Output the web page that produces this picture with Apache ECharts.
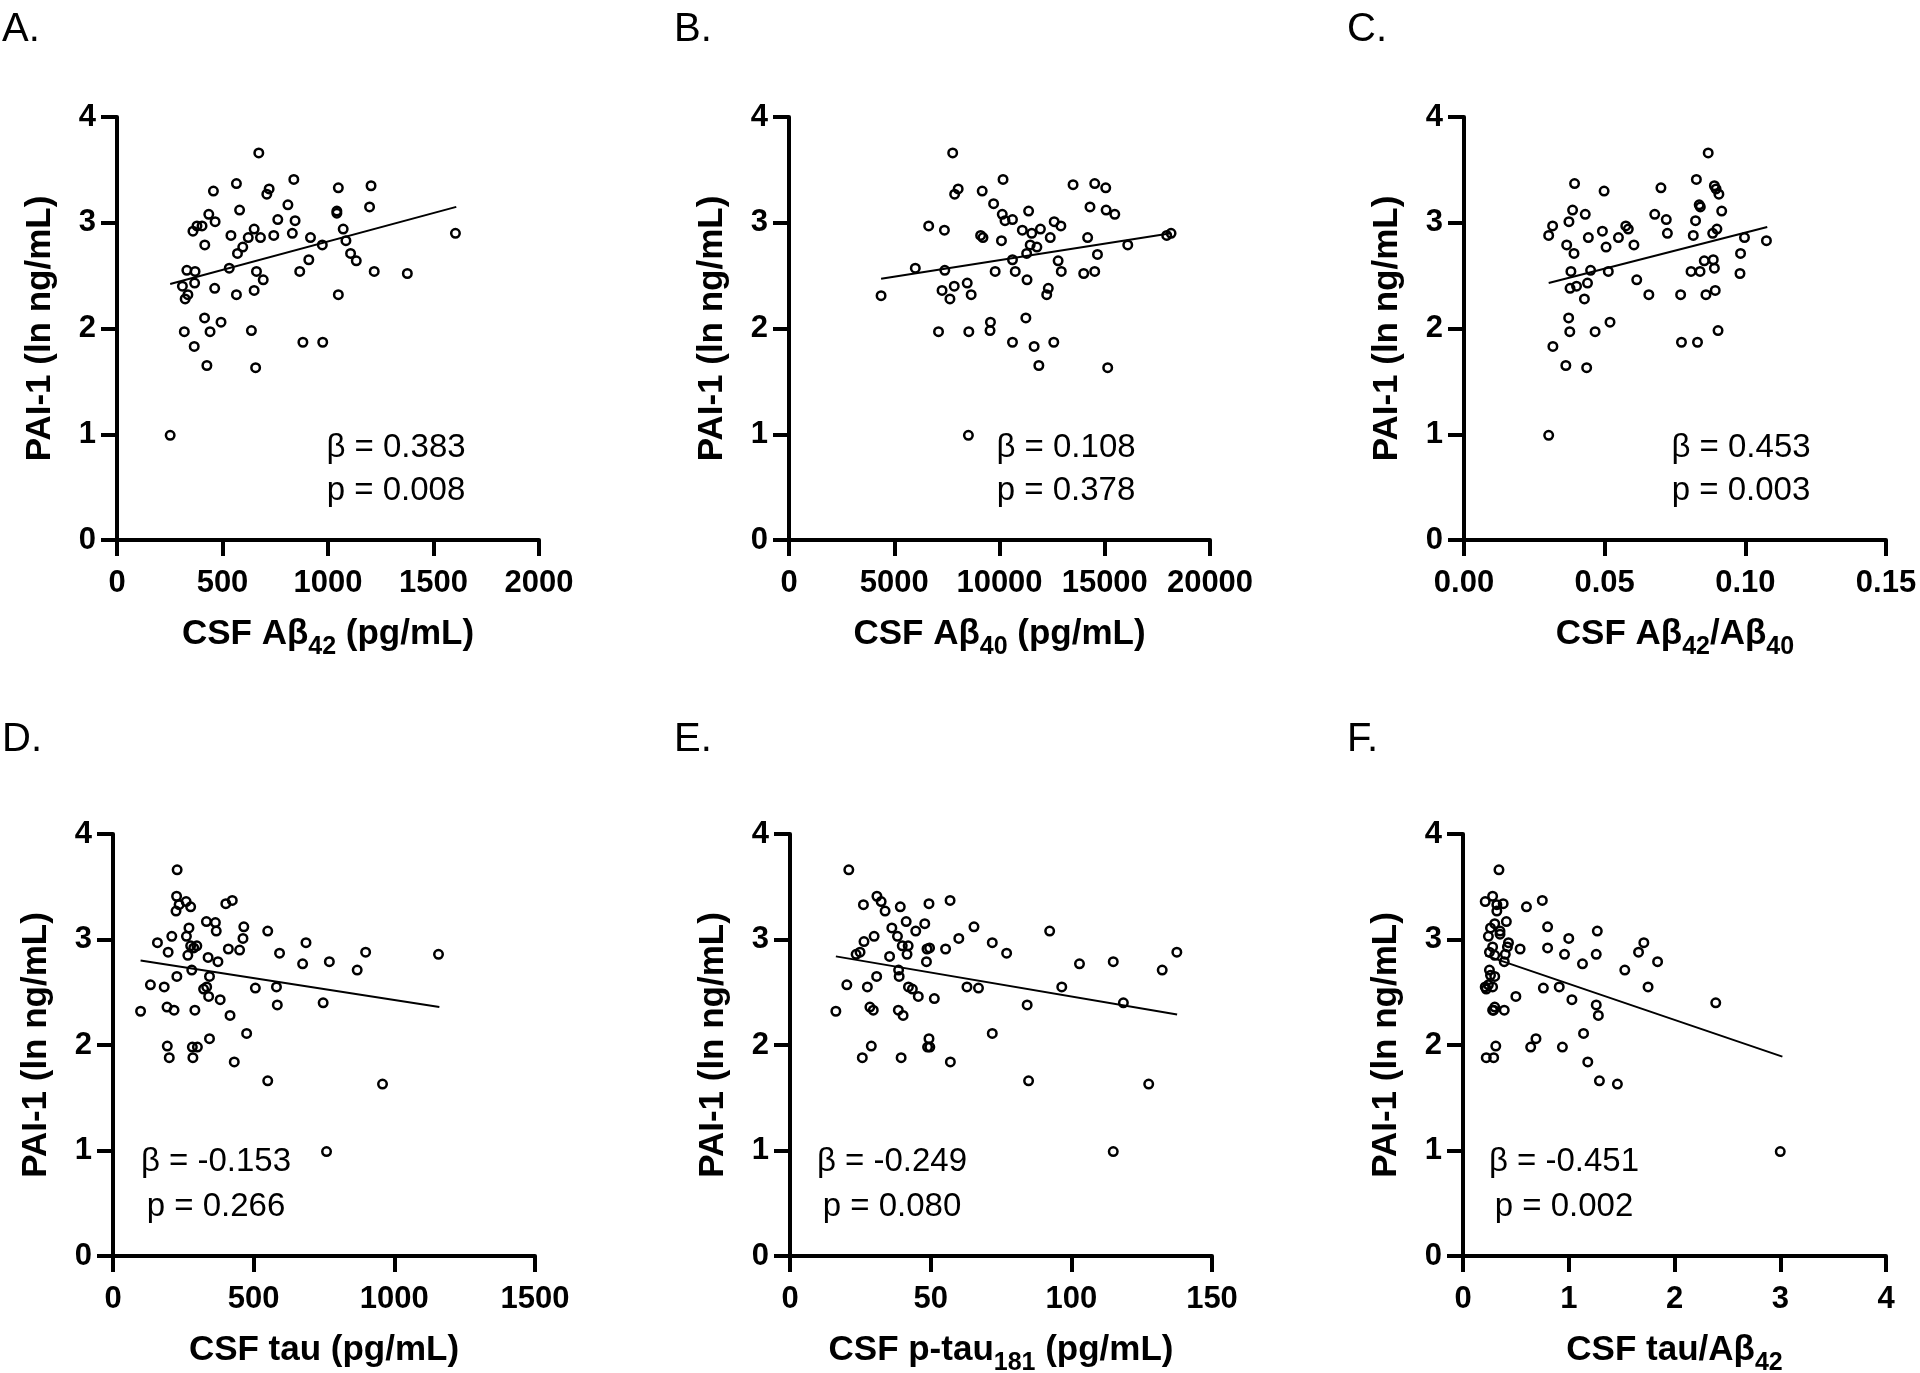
<!DOCTYPE html>
<html>
<head>
<meta charset="utf-8">
<script src="https://cdn.jsdelivr.net/npm/echarts@6/dist/echarts.min.js"></script>
<style>
html,body{margin:0;padding:0;background:#fff;}
#chart{width:1920px;height:1373px;}
</style>
</head>
<body>
<div id="chart"></div>
<script>
// ---------------- DATA ----------------
const panelLetters = ['A.', 'B.', 'C.', 'D.', 'E.', 'F.'];
const yAxisTitle = 'PAI-1 (ln ng/mL)';
const xAxisTitles = [
  'CSF Aβ{s|42} (pg/mL)',
  'CSF Aβ{s|40} (pg/mL)',
  'CSF Aβ{s|42}/Aβ{s|40}',
  'CSF tau (pg/mL)',
  'CSF p-tau{s|181} (pg/mL)',
  'CSF tau/Aβ{s|42}'
];
const xMax = [2000, 20000, 0.15, 1500, 150, 4];
const xStep = [500, 5000, 0.05, 500, 50, 1];
const xDecimals = [0, 0, 2, 0, 0, 0];
const yMax = 4;
const yStep = 1;
const betaValues = ['0.383', '0.108', '0.453', '-0.153', '-0.249', '-0.451'];
const pValues = ['0.008', '0.378', '0.003', '0.266', '0.080', '0.002'];

// A: CSF Abeta42
const aX = [252,672,566,457,721,710,838,1049,1204,1197,810,581,435,465,762,844,1042,1042,379,403,360,650,1072,1604,540,622,680,743,831,917,1085,416,596,973,571,1107,1134,909,532,331,370,661,866,1219,1376,693,368,310,463,336,323,566,650,1049,415,493,319,441,637,366,881,975,426,657];
const aY = [0.99,3.66,3.37,3.30,3.32,3.27,3.41,3.33,3.35,3.15,3.17,3.12,3.08,3.01,3.03,3.02,3.11,3.09,2.97,2.97,2.92,2.94,2.94,2.90,2.88,2.86,2.86,2.88,2.90,2.86,2.83,2.79,2.77,2.79,2.71,2.71,2.64,2.65,2.57,2.55,2.54,2.54,2.54,2.54,2.52,2.46,2.43,2.40,2.38,2.32,2.28,2.32,2.36,2.32,2.10,2.06,1.97,1.97,1.98,1.83,1.87,1.87,1.65,1.63];
const aFitX = [252, 1608];
const aFitY = [2.42, 3.15];

// B: CSF Abeta40
const bX = [8523,7776,8037,7869,9178,10168,13495,14523,15047,9720,14299,15065,15477,11383,10131,10262,10617,12598,12916,6636,7383,11084,11533,11944,9103,9215,10093,12411,14187,17944,18150,11458,11776,16093,11290,14654,10617,12785,6000,7402,9794,10748,12935,14000,14523,11308,8467,7850,7271,12318,4374,7645,8654,12243,11252,9570,7103,8542,9551,10617,12579,11645,11869,15140];
const bY = [0.99,3.66,3.32,3.27,3.30,3.41,3.36,3.37,3.33,3.18,3.15,3.12,3.08,3.11,3.08,3.02,3.03,3.01,2.97,2.97,2.93,2.93,2.90,2.94,2.88,2.86,2.83,2.86,2.86,2.88,2.90,2.79,2.77,2.79,2.71,2.70,2.65,2.64,2.57,2.55,2.54,2.54,2.54,2.52,2.54,2.46,2.43,2.40,2.36,2.38,2.31,2.28,2.32,2.32,2.10,2.06,1.97,1.97,1.98,1.87,1.87,1.83,1.65,1.63];
const bFitX = [4374, 18150];
const bFitY = [2.47, 2.90];

// C: CSF Abeta42/Abeta40
const cX = [0.0301,0.0868,0.0393,0.0826,0.0700,0.0498,0.0890,0.0896,0.0906,0.0836,0.0840,0.0386,0.0916,0.0431,0.0678,0.0373,0.0719,0.0823,0.0315,0.0575,0.0584,0.0492,0.0723,0.0884,0.0899,0.0301,0.0442,0.0549,0.0815,0.0997,0.1075,0.0365,0.0505,0.0604,0.0391,0.0983,0.0854,0.0886,0.0380,0.0450,0.0513,0.0807,0.0839,0.0890,0.0981,0.0614,0.0439,0.0377,0.0400,0.0428,0.0657,0.0770,0.0860,0.0893,0.0372,0.0519,0.0376,0.0466,0.0903,0.0316,0.0773,0.0830,0.0362,0.0436];
const cY = [0.99,3.66,3.37,3.41,3.33,3.30,3.35,3.32,3.27,3.17,3.15,3.12,3.11,3.08,3.08,3.01,3.03,3.02,2.97,2.97,2.94,2.92,2.90,2.90,2.94,2.88,2.86,2.86,2.88,2.86,2.83,2.79,2.77,2.79,2.71,2.71,2.64,2.65,2.54,2.55,2.54,2.54,2.54,2.57,2.52,2.46,2.43,2.38,2.40,2.28,2.32,2.32,2.32,2.36,2.10,2.06,1.97,1.97,1.98,1.83,1.87,1.87,1.65,1.63];
const cFitX = [0.0301, 0.1078];
const cFitY = [2.43, 2.96];

// D: CSF tau
const dX = [759,228,226,260,276,224,235,401,424,332,364,367,270,465,550,462,209,261,158,686,276,298,287,196,898,410,450,266,592,1157,338,373,769,674,868,280,227,343,133,182,333,322,506,581,340,381,192,584,747,98,217,291,416,475,343,193,282,300,200,284,431,550,958];
const dY = [0.99,3.66,3.41,3.36,3.31,3.27,3.33,3.34,3.37,3.17,3.16,3.08,3.11,3.12,3.08,3.01,3.03,3.03,2.97,2.97,2.94,2.94,2.92,2.88,2.88,2.91,2.90,2.85,2.87,2.86,2.83,2.79,2.79,2.77,2.71,2.71,2.65,2.65,2.57,2.55,2.55,2.53,2.54,2.55,2.46,2.43,2.36,2.38,2.40,2.32,2.33,2.33,2.28,2.11,2.06,1.99,1.98,1.98,1.88,1.88,1.84,1.66,1.63];
const dFitX = [98, 1160];
const dFitY = [2.80, 2.36];

// E: CSF p-tau181
const eX = [114.9,20.9,30.9,32.4,33.8,26.1,39.2,49.4,56.9,36.2,41.3,44.7,47.9,65.4,92.3,29.9,38.2,60.0,26.3,71.9,39.9,42.0,48.7,49.6,55.3,23.5,24.9,41.6,77.0,137.5,35.4,48.5,102.9,114.9,38.6,132.3,30.8,38.8,20.2,27.5,42.1,43.5,62.9,67.0,96.6,45.6,51.3,84.3,118.5,16.3,28.4,29.6,38.5,40.2,71.9,49.4,48.9,49.7,28.9,25.7,39.5,57.0,84.8,127.5];
const eY = [0.99,3.66,3.41,3.36,3.27,3.33,3.31,3.34,3.37,3.11,3.17,3.08,3.15,3.12,3.08,3.03,3.03,3.01,2.98,2.97,2.94,2.94,2.91,2.92,2.91,2.86,2.88,2.86,2.87,2.88,2.84,2.79,2.77,2.79,2.71,2.71,2.65,2.65,2.57,2.55,2.55,2.53,2.55,2.54,2.55,2.46,2.44,2.38,2.40,2.32,2.36,2.33,2.33,2.28,2.11,2.06,1.98,1.98,1.99,1.88,1.88,1.84,1.66,1.63];
const eFitX = [16.3, 137.6];
const eFitY = [2.84, 2.29];

// F: CSF tau/Abeta42
const fX = [3.00,0.34,0.28,0.21,0.32,0.38,0.32,0.60,0.75,0.41,0.30,0.26,0.35,0.80,1.27,0.24,0.35,1.00,0.43,1.71,0.28,0.42,0.54,0.80,0.25,0.30,0.96,1.26,1.66,0.40,0.39,1.13,1.84,0.25,1.53,0.30,0.26,0.21,0.24,0.28,0.76,0.91,1.75,0.22,0.50,1.03,2.39,1.26,0.30,0.28,0.39,1.28,1.14,0.69,0.64,0.94,0.31,0.22,0.29,1.18,1.29,1.46,0.29];
const fY = [0.99,3.66,3.41,3.36,3.33,3.34,3.27,3.31,3.37,3.17,3.15,3.11,3.08,3.12,3.08,3.03,3.05,3.01,2.97,2.97,2.93,2.93,2.91,2.92,2.88,2.85,2.86,2.86,2.88,2.86,2.79,2.77,2.79,2.71,2.71,2.65,2.66,2.55,2.57,2.55,2.54,2.55,2.55,2.53,2.46,2.43,2.40,2.38,2.36,2.33,2.33,2.28,2.11,2.06,1.98,1.98,1.99,1.88,1.88,1.84,1.66,1.63,2.33];
const fFitX = [0.21, 3.02];
const fFitY = [2.85, 1.89];

// ---------------- LAYOUT / STYLE ----------------
const FONT = '"Liberation Sans", Arial, Helvetica, sans-serif';
const layout = [
  {left: 117, top: 117, w: 422, h: 423, lx: 2, ly: 10, sx: 396, sy1: 448, sy2: 491},
  {left: 789, top: 117, w: 421, h: 423, lx: 674, ly: 10, sx: 1066, sy1: 448, sy2: 491},
  {left: 1464, top: 117, w: 422, h: 423, lx: 1347, ly: 10, sx: 1741, sy1: 448, sy2: 491},
  {left: 113, top: 834, w: 422, h: 422, lx: 2, ly: 720, sx: 216, sy1: 1162, sy2: 1207},
  {left: 790, top: 834, w: 422, h: 422, lx: 674, ly: 720, sx: 892, sy1: 1162, sy2: 1207},
  {left: 1463, top: 834, w: 423, h: 422, lx: 1347, ly: 720, sx: 1564, sy1: 1162, sy2: 1207}
];

const xs = [aX, bX, cX, dX, eX, fX];
const ys = [aY, bY, cY, dY, eY, fY];
const fitXs = [aFitX, bFitX, cFitX, dFitX, eFitX, fFitX];
const fitYs = [aFitY, bFitY, cFitY, dFitY, eFitY, fFitY];

const AXIS_W = 4;
const axisLineStyle = {color: '#000', width: AXIS_W};
const labelStyle = {fontFamily: FONT, fontWeight: 'bold', fontSize: 31, color: '#000'};
const nameStyleBase = {fontFamily: FONT, fontWeight: 'bold', fontSize: 35, color: '#000'};

const grids = [], xAxes = [], yAxes = [], series = [], graphics = [];

layout.forEach((L, i) => {
  grids.push({left: L.left, top: L.top, width: L.w, height: L.h, containLabel: false, outerBoundsMode: 'none'});
  const dec = xDecimals[i];
  xAxes.push({
    gridIndex: i, type: 'value', min: 0, max: xMax[i], interval: xStep[i],
    splitLine: {show: false},
    axisLine: {show: true, onZero: false, lineStyle: axisLineStyle},
    axisTick: {show: true, length: 16, lineStyle: {color: '#000', width: AXIS_W}},
    axisLabel: Object.assign({margin: 28, formatter: v => Number(v).toFixed(dec)}, labelStyle),
    name: xAxisTitles[i], nameLocation: 'middle', nameGap: 64,
    nameTextStyle: Object.assign({}, nameStyleBase, {
      lineHeight: 60,
      rich: {s: {fontFamily: FONT, fontWeight: 'bold', fontSize: 25, lineHeight: 25, color: '#000', padding: [26, 0, 0, 0]}}
    })
  });
  yAxes.push({
    gridIndex: i, type: 'value', min: 0, max: yMax, interval: yStep,
    splitLine: {show: false},
    axisLine: {show: true, onZero: false, lineStyle: axisLineStyle},
    axisTick: {show: true, length: 16, lineStyle: {color: '#000', width: AXIS_W}},
    axisLabel: Object.assign({margin: 21}, labelStyle),
    name: yAxisTitle, nameLocation: 'middle', nameGap: 59,
    nameTextStyle: nameStyleBase
  });
  series.push({
    type: 'scatter', xAxisIndex: i, yAxisIndex: i,
    symbol: 'circle', symbolSize: 8.5,
    itemStyle: {color: 'rgba(0,0,0,0)', borderColor: '#000', borderWidth: 2.5, opacity: 1},
    emphasis: {disabled: true},
    data: xs[i].map((x, k) => [x, ys[i][k]]),
    z: 3
  });
  series.push({
    type: 'line', xAxisIndex: i, yAxisIndex: i,
    showSymbol: false, symbol: 'none', silent: true,
    lineStyle: {color: '#000', width: 2},
    data: fitXs[i].map((x, k) => [x, fitYs[i][k]]),
    z: 2
  });
  graphics.push({
    type: 'text', x: L.lx, y: L.ly,
    style: {text: panelLetters[i], fontFamily: FONT, fontSize: 40, fontWeight: 'normal', fill: '#000', align: 'left', verticalAlign: 'top'}
  });
  graphics.push({
    type: 'text', x: L.sx, y: L.sy1,
    style: {text: 'β = ' + betaValues[i], fontFamily: FONT, fontSize: 33, fill: '#000', align: 'center', verticalAlign: 'middle'}
  });
  graphics.push({
    type: 'text', x: L.sx, y: L.sy2,
    style: {text: 'p = ' + pValues[i], fontFamily: FONT, fontSize: 33, fill: '#000', align: 'center', verticalAlign: 'middle'}
  });
});

const chart = echarts.init(document.getElementById('chart'), null, {renderer: 'canvas'});
chart.setOption({
  animation: false,
  backgroundColor: '#fff',
  grid: grids,
  xAxis: xAxes,
  yAxis: yAxes,
  series: series,
  graphic: graphics
});
</script>
</body>
</html>
